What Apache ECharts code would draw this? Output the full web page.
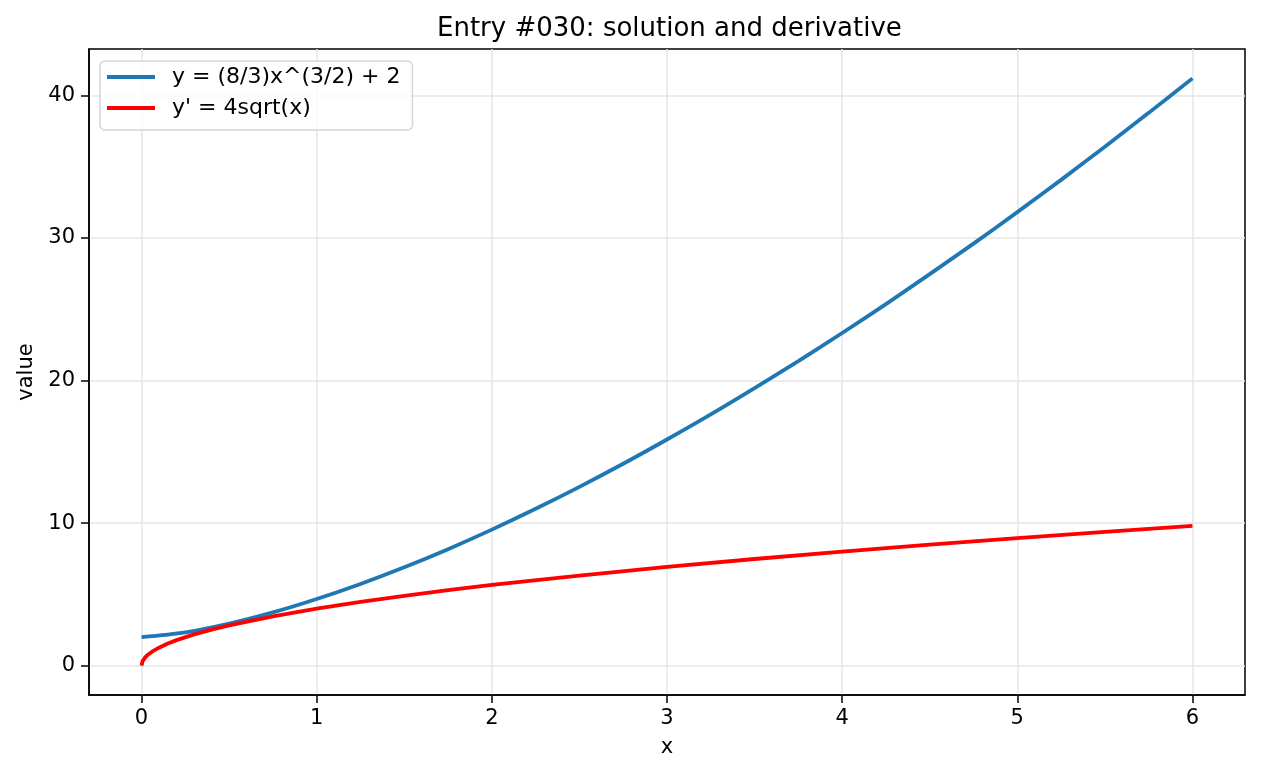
<!DOCTYPE html>
<html>
<head>
<meta charset="utf-8">
<script src="https://cdn.jsdelivr.net/npm/echarts@6/dist/echarts.min.js"></script>
<style>
  html, body { margin: 0; padding: 0; background: #fff; }
  #chart { width: 1261px; height: 776px; }
</style>
</head>
<body>
<div id="chart"></div>
<script>
// values
const xSol = [0, 0.25, 0.5, 0.75, 1, 1.25, 1.5, 1.75, 2, 2.25, 2.5, 2.75, 3, 3.25, 3.5, 3.75, 4, 4.25, 4.5, 4.75, 5, 5.25, 5.5, 5.75, 6];
const ySol = [2.0, 2.33, 2.94, 3.73, 4.67, 5.73, 6.9, 8.17, 9.54, 11.0, 12.54, 14.16, 15.86, 17.62, 19.46, 21.36, 23.33, 25.36, 27.46, 29.6, 31.81, 34.07, 36.4, 38.77, 41.19];

const xDer = [0, 0.005, 0.01, 0.02, 0.04, 0.06, 0.1, 0.15, 0.2, 0.3, 0.4, 0.5, 0.75, 1, 1.25, 1.5, 1.75, 2, 2.5, 3, 3.5, 4, 4.5, 5, 5.5, 6];
const yDer = [0, 0.28, 0.4, 0.57, 0.8, 0.98, 1.26, 1.55, 1.79, 2.19, 2.53, 2.83, 3.46, 4.0, 4.47, 4.9, 5.29, 5.66, 6.32, 6.93, 7.48, 8.0, 8.49, 8.94, 9.38, 9.8];

const xTicks = [0, 1, 2, 3, 4, 5, 6];
const yTicks = [0, 10, 20, 30, 40];

const FONT = 'DejaVu Sans';

const chart = echarts.init(document.getElementById('chart'), null, { renderer: 'canvas' });

const zip = (xs, ys) => xs.map((x, i) => [x, ys[i]]);

const option = {
  backgroundColor: '#fff',
  animation: false,
  textStyle: { fontFamily: FONT, color: '#000' },
  // title sits centred over the plot area, not the page
  title: {
    text: 'Entry #030: solution and derivative',
    left: 432,
    top: 11,
    textStyle: { fontFamily: FONT, fontSize: 26, fontWeight: 'normal', color: '#000' }
  },
  legend: {
    left: 100,
    top: 61,
    orient: 'vertical',
    icon: 'rect',
    itemWidth: 48,
    itemHeight: 4,
    itemGap: 9,
    padding: [5, 12, 11, 7],
    borderColor: '#d6d6d6',
    borderWidth: 1.5,
    borderRadius: 5,
    backgroundColor: 'rgba(255,255,255,0.8)',
    textStyle: { fontFamily: FONT, fontSize: 22, color: '#000', padding: [0, 0, 0, 12], lineHeight: 22 },
    data: ['y = (8/3)x^(3/2) + 2', "y' = 4sqrt(x)"]
  },
  grid: {
    left: 89, right: 16, top: 49, bottom: 81,
    show: true,
    borderColor: '#000',
    borderWidth: 1.5
  },
  xAxis: {
    type: 'value',
    min: -0.3,
    max: 6.3,
    name: 'x',
    nameLocation: 'middle',
    nameGap: 42,
    nameTextStyle: { fontFamily: FONT, fontSize: 21, color: '#000' },
    axisLine: { show: true, onZero: false, lineStyle: { color: '#000', width: 1.5 } },
    axisTick: { show: true, inside: false, length: 8, lineStyle: { color: '#000', width: 1.5 }, customValues: xTicks },
    axisLabel: { fontFamily: FONT, fontSize: 21, color: '#000', margin: 13, customValues: xTicks },
    splitLine: { show: true, lineStyle: { color: '#e6e6e6', width: 1.5 } }
  },
  yAxis: {
    type: 'value',
    min: -2.06,
    max: 43.25,
    name: 'value',
    nameLocation: 'middle',
    nameGap: 51,
    nameTextStyle: { fontFamily: FONT, fontSize: 21, color: '#000' },
    axisLine: { show: true, onZero: false, lineStyle: { color: '#000', width: 1.5 } },
    axisTick: { show: true, inside: false, length: 8, lineStyle: { color: '#000', width: 1.5 }, customValues: yTicks },
    axisLabel: { fontFamily: FONT, fontSize: 21, color: '#000', margin: 14, customValues: yTicks },
    splitLine: { show: true, lineStyle: { color: '#e6e6e6', width: 1.5 } }
  },
  series: [
    {
      name: 'y = (8/3)x^(3/2) + 2',
      type: 'line',
      data: zip(xSol, ySol),
      smooth: 0.3,
      symbol: 'none',
      lineStyle: { color: '#1f77b4', width: 3.8 },
      itemStyle: { color: '#1f77b4' }
    },
    {
      name: "y' = 4sqrt(x)",
      type: 'line',
      data: zip(xDer, yDer),
      smooth: false,
      symbol: 'none',
      lineStyle: { color: '#ff0000', width: 3.8 },
      itemStyle: { color: '#ff0000' }
    }
  ]
};

chart.setOption(option);
</script>
</body>
</html>
